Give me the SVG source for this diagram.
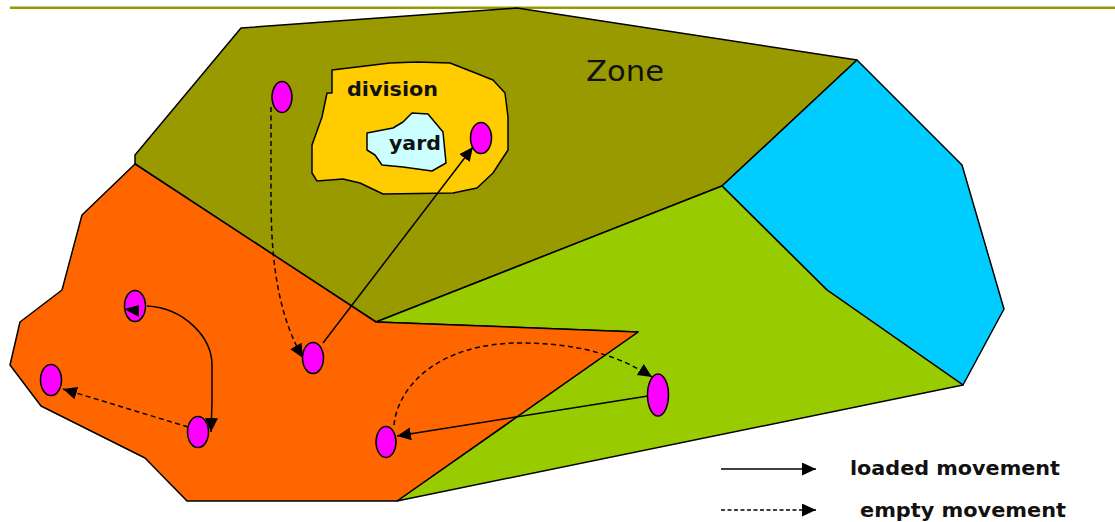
<svg xmlns="http://www.w3.org/2000/svg" width="1115" height="522" viewBox="0 0 1115 522">
<style>
.r{stroke:#000;stroke-width:1.5;stroke-linejoin:round}
.n{fill:#f0f;stroke:#000;stroke-width:1.5}
.l{fill:none;stroke:#000;stroke-width:1.5}
.d{stroke-dasharray:5 3.5}
text{font-family:"DejaVu Sans",sans-serif;fill:#111}
.b{font-weight:bold;font-size:20px}
</style>
<defs>
<marker id="a" markerUnits="userSpaceOnUse" markerWidth="16" markerHeight="14" refX="14" refY="6.5" orient="auto"><path d="M0 0L14 6.5L0 13Z" fill="#000"/></marker>
</defs>
<rect width="1115" height="522" fill="#fff"/>
<rect x="10" y="6.500" width="1105" height="2.500" fill="#999900"/>
<g id="zone-olive"><path class="r" fill="#999900" d="M135 155L241 28L517 8L857 60L722 186L376 322L135 164Z"/></g>
<g id="zone-blue"><path class="r" fill="#00ccff" d="M857 60L962 165L1004 309L963 385L827 290L722 186Z"/></g>
<g id="zone-green"><path class="r" fill="#99cc00" d="M722 186L827 290L963 385L397 501L638 332L376 322Z"/></g>
<g id="zone-orange"><path class="r" fill="#ff6600" d="M135 164L376 322L638 332L397 501L187 501L145 458L41 406L10 365L20 322L62 290L82 215Z"/></g>
<g id="division"><path class="r" fill="#ffcc00" d="M332 70L357 67L390 63L417 62L450 63L473 72L493 80L505 93L508 117L508 150L493 173L477 188L453 193L383 194L360 183L343 179L317 181L312 173L312 145L322 117L327 93L332 93Z"/>
<text class="b" x="347" y="96" textLength="91" lengthAdjust="spacingAndGlyphs">division</text></g>
<g id="yard"><path class="r" fill="#ccffff" d="M367 133L393 128L403 122L412 113L428 114L443 132L446 163L432 171L403 167L382 165L375 155L367 150Z"/>
<text class="b" x="389" y="150" textLength="52" lengthAdjust="spacingAndGlyphs">yard</text></g>
<g id="connectors">
<path class="l d" marker-end="url(#a)" d="M271 107L271 195C271 250 275 310 303 358"/>
<path class="l" marker-end="url(#a)" d="M323 343L473 147"/>
<path class="l" marker-end="url(#a)" d="M147 306C185 308 212 338 212 365L212 403L211 432"/>
<path class="l d" marker-end="url(#a)" d="M188 427L63 389"/>
<path class="l d" marker-end="url(#a)" d="M394 425C398 385 440 343 520 343C565 343 610 350 652 377"/>
<path class="l" marker-end="url(#a)" d="M648 396L397 436"/>
</g>
<g id="node-1"><ellipse class="n" cx="282" cy="97" rx="10" ry="15.500"/></g>
<g id="node-2"><ellipse class="n" cx="481" cy="138" rx="10.500" ry="15.500"/></g>
<g id="node-3"><ellipse class="n" cx="135" cy="306" rx="10.500" ry="15.500"/><path d="M124 309L139 305L139 317Z" fill="#000"/></g>
<g id="node-4"><ellipse class="n" cx="51" cy="380" rx="10.500" ry="15.500"/></g>
<g id="node-5"><ellipse class="n" cx="198" cy="432" rx="10.500" ry="15.500"/></g>
<g id="node-6"><ellipse class="n" cx="313" cy="358" rx="10.500" ry="15.500"/></g>
<g id="node-7"><ellipse class="n" cx="386" cy="442" rx="10" ry="15.500"/></g>
<g id="node-8"><ellipse class="n" cx="658" cy="395" rx="10.500" ry="21"/></g>
<text x="586" y="81" font-size="28" textLength="78" lengthAdjust="spacingAndGlyphs">Zone</text>
<g id="legend">
<path class="l" marker-end="url(#a)" d="M721 469L816 469"/>
<path class="l d" marker-end="url(#a)" d="M721 510L816 510" style="stroke-dasharray:4 2.500"/>
<text class="b" x="850" y="475" textLength="210" lengthAdjust="spacingAndGlyphs">loaded movement</text>
<text class="b" x="860" y="517" textLength="206" lengthAdjust="spacingAndGlyphs">empty movement</text>
</g>
</svg>
